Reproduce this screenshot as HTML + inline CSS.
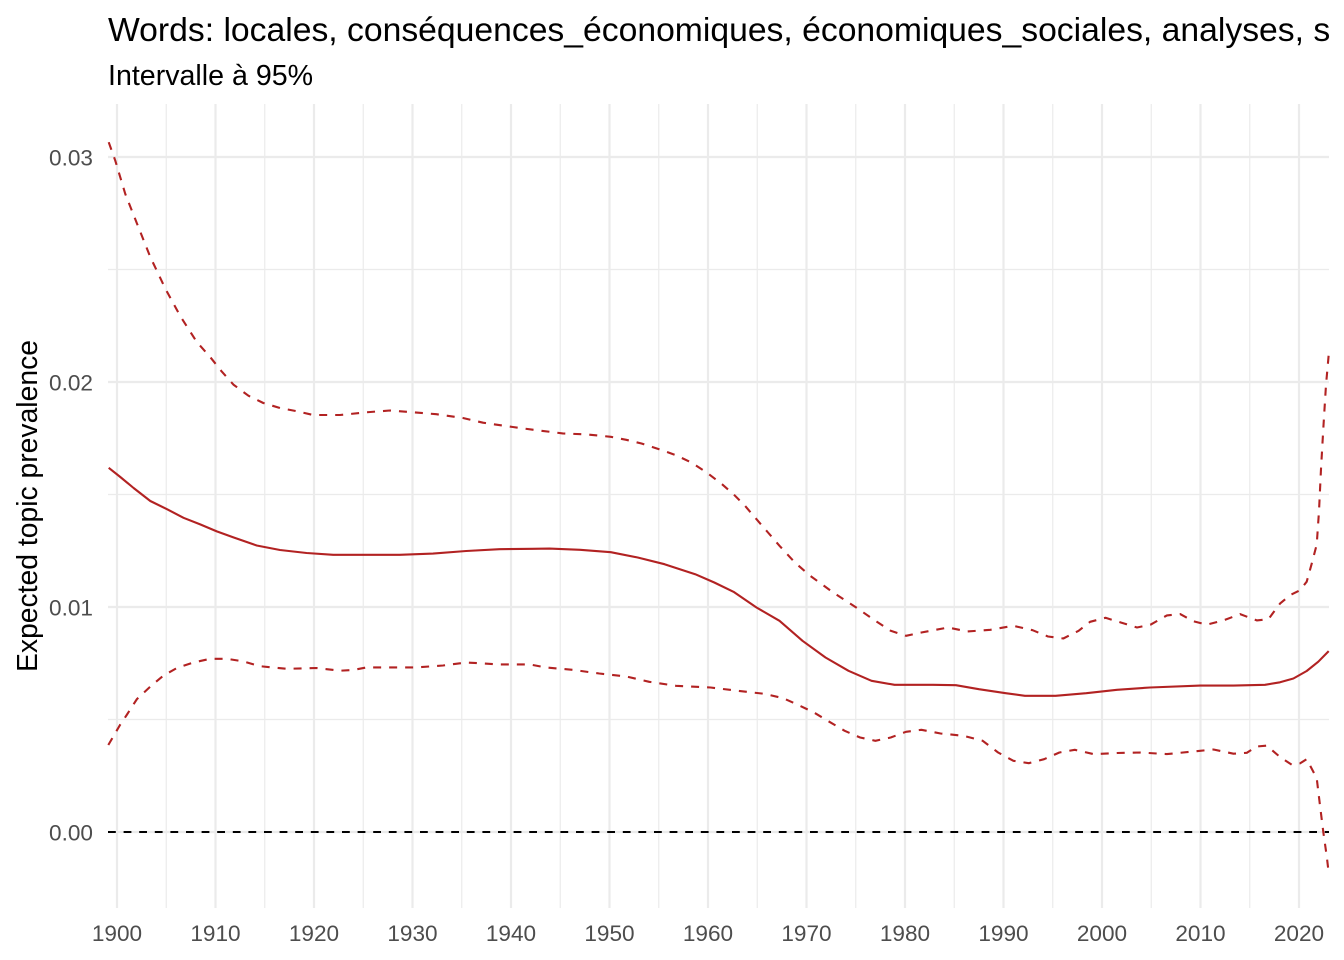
<!DOCTYPE html>
<html>
<head>
<meta charset="utf-8">
<style>
  html,body{margin:0;padding:0;background:#fff;}
  body{width:1344px;height:960px;overflow:hidden;}
  svg{display:block;}
  text{font-family:"Liberation Sans", Arial, sans-serif;}
</style>
</head>
<body>
<svg width="1344" height="960" viewBox="0 0 1344 960" xmlns="http://www.w3.org/2000/svg">
  <rect x="0" y="0" width="1344" height="960" fill="#ffffff"/>

  <!-- minor gridlines -->
  <g stroke="#EBEBEB" stroke-width="1.2" fill="none">
    <line x1="108" x2="1329" y1="269.5" y2="269.5"/>
    <line x1="108" x2="1329" y1="494.5" y2="494.5"/>
    <line x1="108" x2="1329" y1="719.5" y2="719.5"/>
    <line x1="166.25" x2="166.25" y1="104" y2="908"/>
    <line x1="264.75" x2="264.75" y1="104" y2="908"/>
    <line x1="363.25" x2="363.25" y1="104" y2="908"/>
    <line x1="461.75" x2="461.75" y1="104" y2="908"/>
    <line x1="560.25" x2="560.25" y1="104" y2="908"/>
    <line x1="658.75" x2="658.75" y1="104" y2="908"/>
    <line x1="757.25" x2="757.25" y1="104" y2="908"/>
    <line x1="855.75" x2="855.75" y1="104" y2="908"/>
    <line x1="954.25" x2="954.25" y1="104" y2="908"/>
    <line x1="1052.75" x2="1052.75" y1="104" y2="908"/>
    <line x1="1151.25" x2="1151.25" y1="104" y2="908"/>
    <line x1="1249.75" x2="1249.75" y1="104" y2="908"/>
  </g>
  <!-- major gridlines -->
  <g stroke="#EBEBEB" stroke-width="2.2" fill="none">
    <line x1="108" x2="1329" y1="157" y2="157"/>
    <line x1="108" x2="1329" y1="382" y2="382"/>
    <line x1="108" x2="1329" y1="607" y2="607"/>
    <line x1="108" x2="1329" y1="832" y2="832"/>
    <line x1="117" x2="117" y1="104" y2="908"/>
    <line x1="215.5" x2="215.5" y1="104" y2="908"/>
    <line x1="314" x2="314" y1="104" y2="908"/>
    <line x1="412.5" x2="412.5" y1="104" y2="908"/>
    <line x1="511" x2="511" y1="104" y2="908"/>
    <line x1="609.5" x2="609.5" y1="104" y2="908"/>
    <line x1="708" x2="708" y1="104" y2="908"/>
    <line x1="806.5" x2="806.5" y1="104" y2="908"/>
    <line x1="905" x2="905" y1="104" y2="908"/>
    <line x1="1003.5" x2="1003.5" y1="104" y2="908"/>
    <line x1="1102" x2="1102" y1="104" y2="908"/>
    <line x1="1200.5" x2="1200.5" y1="104" y2="908"/>
    <line x1="1299" x2="1299" y1="104" y2="908"/>
  </g>

  <!-- zero line -->
  <line x1="108" x2="1329" y1="832" y2="832" stroke="#000" stroke-width="2" stroke-dasharray="7.8 7.8"/>

  <!-- upper CI -->
  <polyline fill="none" stroke="#B22222" stroke-width="2.1" stroke-dasharray="8 8" stroke-linejoin="round"
    points="108.7,142.2 115.3,160.7 125.3,194 137,223.6 150.3,257 165.2,288.4 180.2,316 196.8,342 210,356.8 221.8,371.6 233.4,384.6 248.4,395.7 263.3,403 280,408 296.6,411.2 313.2,415 340,415 366.5,412.3 389.7,410.5 413,412.3 436.3,414.2 463,418 483,422.7 512.8,427 532.7,429.7 562.7,433.4 587.8,434.5 610.8,436.8 626.2,439.8 641.5,443.5 660.7,449.8 676,455.2 691.3,462.5 706.7,472.5 722,484.2 733.5,494.2 745,505.8 756.5,519.2 768,532.5 779.5,545.8 794.9,562.5 810.2,575.8 833.2,592.5 856.2,607.5 875.4,620.8 890.7,630.8 906,635.8 921.4,632.5 948.2,627.5 967.4,631.5 990.4,629.8 1013.4,625.8 1032.6,630.2 1048,636.5 1063.3,638.5 1078.6,630.8 1090.1,621.8 1105.5,617.8 1120.8,622.5 1137,627.5 1150.3,624.8 1166.9,615.4 1180.2,614.1 1193.5,621.3 1206.8,624.7 1223.5,620.4 1240.1,614.1 1256.8,620.4 1268.4,619.2 1280,603.6 1290,595.2 1300,590.2 1306.7,581.7 1311.7,563.7 1316.7,544.7 1319,511.1 1321,469 1323.4,427 1326,385 1328.7,354.7"/>

  <!-- mean -->
  <polyline fill="none" stroke="#B22222" stroke-width="2.1" stroke-linejoin="round"
    points="108.7,467.8 120.3,477 133.6,488 150.3,501 167,509.2 183.5,517.8 200.2,524.4 216.8,531.4 233.4,537.4 256.7,545.5 280,550 306.6,553 333.2,554.8 399.7,554.8 433,553.6 466.2,551 499.5,549.2 532.7,548.8 549.5,548.6 580.2,549.8 610.8,552.2 637.7,557.5 664.5,564.2 695.2,574.2 714.3,582.5 733.5,591.8 756.5,607.5 779.5,620.8 802.5,640.8 825.5,657.5 848.5,670.8 871.5,680.8 894.5,684.8 932.9,684.8 955.9,685.2 978.9,689.2 1005.7,693.2 1024.9,695.8 1055.6,695.8 1086.3,693.2 1117,689.8 1150,687.5 1200.2,685.6 1233.4,685.6 1265,684.8 1280,682.3 1293.4,678.5 1306.7,671 1318.3,661.7 1328.7,651.1"/>

  <!-- lower CI -->
  <polyline fill="none" stroke="#B22222" stroke-width="2.1" stroke-dasharray="8 8" stroke-linejoin="round"
    points="108.3,745 120,725 126.7,715 137,699 150.3,686.6 163.6,675.5 176.9,668 193.5,662.5 210,658.8 226.8,658.8 243.4,661.4 260,666.2 286.6,668.8 316.6,668 340,670.7 353.2,670 366.5,667.4 416.4,667.4 443,665.5 466.2,662.5 499.5,664.4 529.4,664.4 546,667.5 572.5,669.8 599.3,673.5 626.2,676.5 649.2,681.8 676,685.8 710.5,687.5 741.2,691.2 764.2,693.8 783.3,698.2 798.7,705.2 814,712.5 829.4,721.8 844.7,730.8 860.1,737.5 875.4,740.8 890.7,737.5 906,731.8 921.4,729.8 940.6,733.5 963.6,735.8 982.7,740.8 998.1,752.5 1013.4,760.8 1028.8,763.2 1044.1,759.2 1059.4,752.5 1074.8,749.8 1094,754.2 1117,753 1140.3,752.5 1166.9,754.1 1200.2,750.8 1213.5,749.5 1233.4,753.7 1246.8,752.8 1256.8,746.5 1266.7,745.6 1280,757 1291.7,764.7 1300,763.4 1306.7,759.2 1316.7,778.1 1320,805.5 1323.4,832.8 1326.7,856 1328.7,872.8"/>

  <!-- y tick labels -->
  <g font-size="22.6" fill="#4D4D4D" text-anchor="end">
    <text x="93" y="165.5">0.03</text>
    <text x="93" y="390.5">0.02</text>
    <text x="93" y="615.5">0.01</text>
    <text x="93" y="840.5">0.00</text>
  </g>

  <!-- x tick labels -->
  <g font-size="22.6" fill="#4D4D4D" text-anchor="middle">
    <text x="117" y="941">1900</text>
    <text x="215.5" y="941">1910</text>
    <text x="314" y="941">1920</text>
    <text x="412.5" y="941">1930</text>
    <text x="511" y="941">1940</text>
    <text x="609.5" y="941">1950</text>
    <text x="708" y="941">1960</text>
    <text x="806.5" y="941">1970</text>
    <text x="905" y="941">1980</text>
    <text x="1003.5" y="941">1990</text>
    <text x="1102" y="941">2000</text>
    <text x="1200.5" y="941">2010</text>
    <text x="1299" y="941">2020</text>
  </g>

  <!-- y axis title -->
  <text transform="translate(37,506) rotate(-90)" font-size="28.3" fill="#000" text-anchor="middle">Expected topic prevalence</text>

  <!-- title and subtitle -->
  <text x="108" y="41" font-size="33.7" fill="#000">Words: locales, conséquences_économiques, économiques_sociales, analyses, s</text>
  <text x="108" y="85" font-size="28.6" fill="#000">Intervalle à 95%</text>
</svg>
</body>
</html>
